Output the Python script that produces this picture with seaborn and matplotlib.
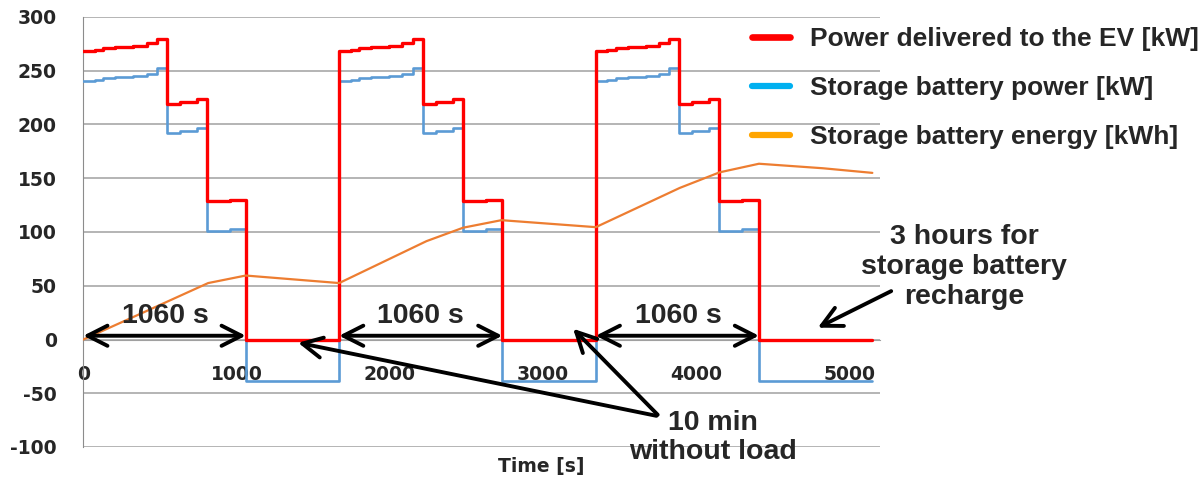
import numpy as np
import pandas as pd
import matplotlib.pyplot as plt
from matplotlib.lines import Line2D
import seaborn as sns

sns.set_style("white")
plt.rcParams["font.family"] = ["DejaVu Sans"]
plt.rcParams["axes.unicode_minus"] = False

# step times [s] of the three charging cycles plus the final idle period
step_t = [0, 76, 130, 207, 326, 413, 479, 546, 631, 740, 807, 957, 1060,
          1670, 1746, 1800, 1877, 1996, 2083, 2149, 2216, 2301, 2410, 2477, 2627, 2735,
          3345, 3421, 3475, 3552, 3671, 3758, 3824, 3891, 3976, 4085, 4152, 4302, 4410,
          5150]
ev_power = [268, 269, 271, 272, 273, 275.5, 279.5, 219, 221, 223.5, 128.5, 129.5, 0,
            268, 269, 271, 272, 273, 275.5, 279.5, 219, 221, 223.5, 128.5, 129.5, 0,
            268, 269, 271, 272, 273, 275.5, 279.5, 219, 221, 223.5, 128.5, 129.5, 0,
            0]
batt_power = [240, 241.5, 243, 244, 245, 247, 252.5, 192, 193.5, 197, 100.5, 102.5, -39,
              240, 241.5, 243, 244, 245, 247, 252.5, 192, 193.5, 197, 100.5, 102.5, -39,
              240, 241.5, 243, 244, 245, 247, 252.5, 192, 193.5, 197, 100.5, 102.5, -39,
              -39]

energy_t = [0, 413, 815, 1060, 1670, 2240, 2479, 2729, 3345, 3893, 4153, 4410, 4827, 5150]
energy = [0, 26.5, 52.5, 59.5, 52.5, 91.5, 104, 111, 104.5, 141, 155.5, 163.5, 159.3, 155]

labels = ["Power delivered to the EV [kW]",
          "Storage battery power [kW]",
          "Storage battery energy [kWh]"]

df_p = pd.DataFrame({"t": step_t, "ev": ev_power, "batt": batt_power})
df_e = pd.DataFrame({"t": energy_t, "e": energy})

fig = plt.figure(figsize=(12.01, 4.79), dpi=100)
ax = fig.add_axes([83.3 / 1201, 1 - 447 / 479, (880 - 83.3) / 1201, 430 / 479])

sns.lineplot(data=df_p, x="t", y="batt", ax=ax, color="#5B9BD5", lw=1.9,
             drawstyle="steps-post", estimator=None, sort=False, zorder=3)
sns.lineplot(data=df_p, x="t", y="ev", ax=ax, color="#FF0000", lw=2.4,
             drawstyle="steps-post", estimator=None, sort=False, zorder=4)
sns.lineplot(data=df_e, x="t", y="e", ax=ax, color="#ED7D31", lw=1.6,
             estimator=None, sort=False, zorder=5)

ax.set_xlim(0, 5200)
ax.set_ylim(-100, 300)
ax.set_xticks(range(0, 5001, 1000))
ax.set_yticks(range(-100, 301, 50))
ax.set_xlabel("")
ax.set_ylabel("")
ax.grid(axis="y", color="#A0A0A0", lw=1.1)
ax.grid(axis="x", visible=False)
for s in ["top", "right"]:
    ax.spines[s].set_visible(False)
ax.spines["bottom"].set_position(("data", 0))
ax.spines["bottom"].set_color("#A0A0A0")
ax.spines["left"].set_color("#8C8C8C")
ax.spines["bottom"].set_zorder(1)
ax.tick_params(axis="x", direction="out", length=5, color="#8C8C8C", pad=13,
               labelsize=13.5)
ax.tick_params(axis="y", direction="out", length=7, color="#A0A0A0", pad=12,
               labelsize=13.5)
for lab in ax.get_xticklabels() + ax.get_yticklabels():
    lab.set_fontweight("bold")

ax.text(2990, -118, "Time [s]", ha="center", va="center", fontsize=13.5,
        fontweight="bold", clip_on=False)

ann_font = dict(family=["Liberation Sans", "DejaVu Sans"], fontweight="bold",
                fontsize=20.5)
arrow2 = dict(arrowstyle="<->,head_length=0.65,head_width=0.33", lw=2.8,
              color="black", shrinkA=0, shrinkB=0, mutation_scale=22)
arrow1 = dict(arrowstyle="->,head_length=0.65,head_width=0.33", lw=2.8,
              color="black", shrinkA=0, shrinkB=0, mutation_scale=22)

for x0, x1, xc in [(0, 1060, 534), (1670, 2735, 2203), (3345, 4410, 3886)]:
    ax.annotate("", xy=(x1, 3.5), xytext=(x0, 3.5), arrowprops=arrow2, zorder=6)
    ax.text(xc, 22, "1060 s", ha="center", va="center", **ann_font, zorder=6)

ax.annotate("", xy=(1402, -3), xytext=(3741, -71), arrowprops=arrow1, zorder=6)
ax.annotate("", xy=(3197, 10), xytext=(3749, -70), arrowprops=arrow1, zorder=6)
ax.text(4107, -91, "10 min\nwithout load", ha="center", va="center",
        linespacing=1.15, **ann_font, zorder=6)

ax.annotate("", xy=(4794, 11), xytext=(5273, 45), arrowprops=arrow1,
            annotation_clip=False, zorder=6)
ax.text(5751, 67, "3 hours for\nstorage battery\nrecharge", ha="center",
        va="center", linespacing=1.2, clip_on=False, **ann_font)

handles = [Line2D([], [], color="#FF0000", lw=4.8),
           Line2D([], [], color="#00B0F0", lw=4.5),
           Line2D([], [], color="#FFA500", lw=4.5)]
fig.legend(handles, labels, loc="upper left", bbox_to_anchor=(752 / 1201, 1 - 27 / 479),
           frameon=False, borderpad=0, borderaxespad=0, handlelength=1.45,
           handletextpad=0.75, labelspacing=0.95,
           prop=dict(family=["Liberation Sans", "DejaVu Sans"], weight="bold", size=19))

fig.savefig("out.png", dpi=100)
